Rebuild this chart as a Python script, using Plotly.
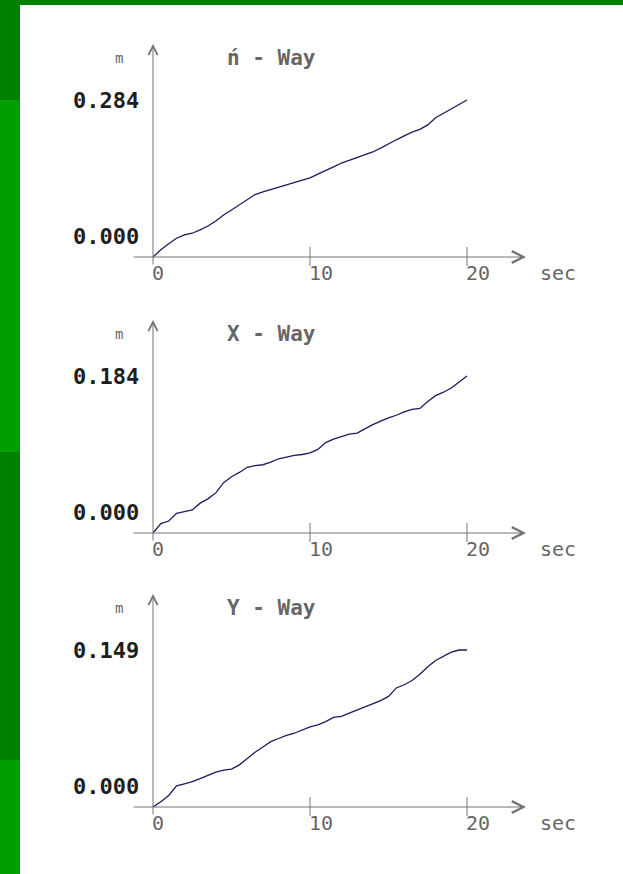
import plotly.graph_objects as go

# ---------------- data ----------------
time_s = [0, 0.5, 1, 1.5, 2, 2.5, 3, 3.5, 4, 4.5, 5, 5.5, 6, 6.5, 7, 7.5, 8, 8.5, 9, 9.5,
          10, 10.5, 11, 11.5, 12, 12.5, 13, 13.5, 14, 14.5, 15, 15.5, 16, 16.5, 17, 17.5,
          18, 18.5, 19, 19.5, 20]

way_n = [0.000, 0.013, 0.024, 0.034, 0.040, 0.043, 0.049, 0.056, 0.065, 0.076, 0.085,
         0.094, 0.104, 0.113, 0.118, 0.122, 0.127, 0.131, 0.135, 0.138, 0.143, 0.150,
         0.156, 0.163, 0.170, 0.175, 0.180, 0.184, 0.190, 0.197, 0.205, 0.212, 0.219,
         0.226, 0.231, 0.239, 0.252, 0.260, 0.267, 0.276, 0.284]

way_x = [0.000, 0.011, 0.014, 0.023, 0.025, 0.027, 0.035, 0.040, 0.047, 0.059, 0.066,
         0.071, 0.077, 0.079, 0.080, 0.083, 0.087, 0.089, 0.091, 0.092, 0.094, 0.098,
         0.106, 0.110, 0.113, 0.116, 0.117, 0.122, 0.127, 0.131, 0.135, 0.138, 0.142,
         0.145, 0.146, 0.154, 0.161, 0.165, 0.170, 0.177, 0.184]

way_y = [0.000, 0.005, 0.011, 0.020, 0.022, 0.024, 0.027, 0.030, 0.033, 0.035, 0.036,
         0.040, 0.046, 0.052, 0.057, 0.062, 0.065, 0.068, 0.070, 0.073, 0.076, 0.078,
         0.081, 0.085, 0.086, 0.089, 0.092, 0.095, 0.098, 0.101, 0.105, 0.113, 0.116,
         0.120, 0.126, 0.133, 0.139, 0.143, 0.147, 0.149, 0.149]

panel_titles = ["ń - Way", "X - Way", "Y - Way"]
panel_series = [way_n, way_x, way_y]
panel_max = [0.284, 0.184, 0.149]
x_ticks = [0, 10, 20]
x_tick_labels = ["0", "10", "20"]
x_unit = "sec"
y_unit = "m"

# ---------------- layout geometry (pixels) ----------------
W, H = 623, 874
AXIS_ROW = [257, 533, 807]     # pixel row of each time axis
ORIGIN_X = 153                  # pixel column of the value axis
PX_PER_SEC = 15.7
TOP_LABEL_PX = 157              # height of the max label above the axis
PLOT_LEFT, PLOT_RIGHT = 100, 600

AXIS_COL = "#747474"
TEXT_GRAY = "#666666"
LINE_COL = "#1c1c5c"
MONO = "DejaVu Sans Mono, monospace"

fig = go.Figure()
shapes = []
annotations = []

# green slide frame
DARK = "rgb(0,128,0)"
BRIGHT = "rgb(0,158,0)"
for (y0, y1, c) in [(0, 100, DARK), (100, 452, BRIGHT), (452, 760, DARK), (760, 874, BRIGHT)]:
    shapes.append(dict(type="rect", xref="paper", yref="paper", x0=0, x1=20 / W,
                       y0=1 - y1 / H, y1=1 - y0 / H, fillcolor=c, line_width=0, layer="below"))
shapes.append(dict(type="rect", xref="paper", yref="paper", x0=0, x1=1,
                   y0=1 - 5 / H, y1=1, fillcolor=DARK, line_width=0, layer="below"))

layout_axes = {}
for i in range(3):
    n = "" if i == 0 else str(i + 1)
    xa, ya = "x" + n, "y" + n
    row = AXIS_ROW[i]
    ymax = panel_max[i]
    s = TOP_LABEL_PX / ymax            # px per unit
    bot_px, top_px = row + 32, row - 222

    layout_axes["xaxis" + n] = dict(
        domain=[PLOT_LEFT / W, PLOT_RIGHT / W],
        range=[(PLOT_LEFT - ORIGIN_X) / PX_PER_SEC, (PLOT_RIGHT - ORIGIN_X) / PX_PER_SEC],
        visible=False, fixedrange=True, anchor=ya)
    layout_axes["yaxis" + n] = dict(
        domain=[1 - bot_px / H, 1 - top_px / H],
        range=[-32 / s, 222 / s],
        visible=False, fixedrange=True, anchor=xa)

    fig.add_trace(go.Scatter(x=time_s, y=panel_series[i], mode="lines",
                             line=dict(color=LINE_COL, width=1.3),
                             xaxis=xa, yaxis=ya, showlegend=False, hoverinfo="skip"))

    # time axis with arrow
    annotations.append(dict(x=(526 - ORIGIN_X) / PX_PER_SEC, y=0,
                            ax=(132 - ORIGIN_X) / PX_PER_SEC, ay=0,
                            xref=xa, yref=ya, axref=xa, ayref=ya, text="",
                            showarrow=True, arrowhead=5, arrowsize=2.3, arrowwidth=1,
                            arrowcolor=AXIS_COL, standoff=0, startstandoff=0))
    # value axis with arrow
    annotations.append(dict(x=0, y=213 / s, ax=0, ay=-9 / s,
                            xref=xa, yref=ya, axref=xa, ayref=ya, text="",
                            showarrow=True, arrowhead=5, arrowsize=1.8, arrowwidth=1,
                            arrowcolor=AXIS_COL, standoff=0, startstandoff=0))
    # tick marks
    for tv in x_ticks[1:]:
        shapes.append(dict(type="line", xref=xa, yref=ya, x0=tv, x1=tv,
                           y0=-9 / s, y1=10 / s, line=dict(color=AXIS_COL, width=1)))
    # tick labels
    for tv, tl in zip(x_ticks, x_tick_labels):
        annotations.append(dict(x=tv, y=-16 / s, xref=xa, yref=ya, text=tl,
                                showarrow=False, xanchor="left", yanchor="middle", xshift=-3,
                                font=dict(family=MONO, size=20, color=TEXT_GRAY)))
    annotations.append(dict(x=(558 - ORIGIN_X) / PX_PER_SEC, y=-16 / s, xref=xa, yref=ya,
                            text=x_unit, showarrow=False, xanchor="center", yanchor="middle",
                            font=dict(family=MONO, size=20, color=TEXT_GRAY)))
    # value labels
    for val, ypos in [(ymax, ymax), (0.0, 21 / s)]:
        annotations.append(dict(x=0, y=ypos, xref=xa, yref=ya, text=f"{val:.3f}",
                                showarrow=False, xanchor="right", yanchor="middle", xshift=-12,
                                font=dict(family=MONO, size=22, color="#1e1e1e", weight="bold")))
    # unit and title
    annotations.append(dict(x=0, y=199 / s, xref=xa, yref=ya, text=y_unit, showarrow=False,
                            xanchor="center", yanchor="middle", xshift=-34,
                            font=dict(family=MONO, size=14, color=TEXT_GRAY)))
    annotations.append(dict(x=0, y=199 / s, xref=xa, yref=ya, text=panel_titles[i],
                            showarrow=False, xanchor="left", yanchor="middle", xshift=72,
                            font=dict(family=MONO, size=21, color=TEXT_GRAY, weight="bold")))

fig.update_layout(
    width=W, height=H, margin=dict(l=0, r=0, t=0, b=0),
    paper_bgcolor="white", plot_bgcolor="rgba(0,0,0,0)",
    shapes=shapes, annotations=annotations, showlegend=False,
    **layout_axes)

fig.write_html("out.html", config={"displayModeBar": False},
               post_script="document.body.style.margin='0';document.body.style.overflow='hidden';")
